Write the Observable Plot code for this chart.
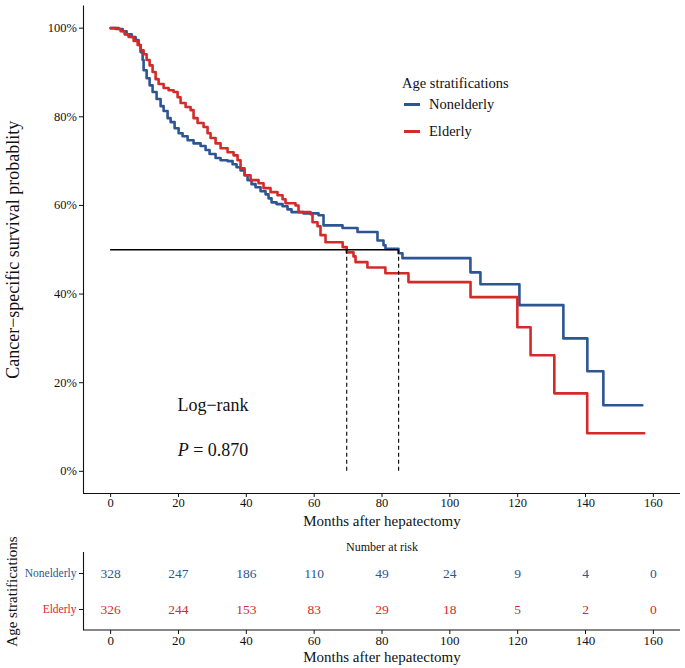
<!DOCTYPE html>
<html><head><meta charset="utf-8">
<script src="https://cdn.jsdelivr.net/npm/d3@7"></script>
<script src="https://cdn.jsdelivr.net/npm/@observablehq/plot@0.6"></script>
<style>
body{margin:0;background:#fff;font-family:"Liberation Serif",serif;}
#wrap{position:relative;width:685px;height:668px;overflow:hidden;}
#wrap svg{display:block;}
.ov{position:absolute;white-space:nowrap;color:#111;font-family:"Liberation Serif",serif;}
.c{transform:translate(-50%,-50%);}
.lg{position:absolute;height:2.5px;width:16px;}
</style></head><body><div id="wrap"></div>
<script>
// ---- data ----
const strata = ["Nonelderly", "Elderly"];
const strataColors = ["#2D5594", "#D42A2A"];

const nonelderlyTime = [0, 2.36, 3.54, 4.71, 6.19, 7.37, 8.25, 8.84, 9.43, 9.72, 10.61, 11.49, 12.37, 13.55, 14.73, 15.62, 16.79, 17.68, 18.86, 20.04, 21.21, 22.69, 24.45, 26.52, 27.99, 29.17, 30.94, 32.41, 34.47, 35.95, 37.12, 38.30, 39.48, 40.37, 41.54, 42.72, 44.20, 45.67, 46.55, 47.44, 48.91, 50.68, 52.15, 53.33, 56.86, 61.28, 62.76, 68.36, 72.78, 78.67, 80.44, 81.03, 84.86, 86.03, 106.07, 109.02, 120.51, 133.47, 140.54, 145.26, 156.75];
const nonelderlySurv = [100, 99.8, 99.3, 98.6, 98.0, 97.3, 96.2, 94.6, 92.8, 90.5, 88.7, 87.1, 85.6, 84.0, 82.4, 81.3, 79.7, 78.8, 77.4, 76.3, 75.6, 74.7, 74.0, 73.4, 72.5, 71.6, 70.7, 70.2, 70.0, 69.3, 68.6, 67.9, 66.8, 65.7, 64.8, 64.1, 63.2, 62.5, 61.6, 60.7, 60.3, 59.8, 59.1, 58.5, 58.2, 57.8, 55.5, 54.9, 54.0, 52.1, 51.0, 50.2, 49.2, 48.1, 44.9, 42.2, 37.5, 30.0, 22.6, 14.9, 14.9];

const elderlyTime = [0, 1.47, 2.95, 4.12, 5.30, 6.78, 7.96, 8.84, 9.72, 10.61, 11.49, 12.37, 13.26, 14.14, 15.62, 17.09, 18.56, 19.74, 20.62, 22.10, 23.57, 24.45, 25.63, 27.40, 28.58, 29.46, 30.94, 32.41, 34.47, 36.24, 37.42, 38.30, 39.48, 41.25, 43.61, 45.08, 47.14, 49.20, 50.68, 51.56, 54.51, 55.39, 58.93, 59.52, 60.99, 61.87, 63.35, 68.4, 69.6, 71.6, 72.2, 75.7, 81.0, 87.8, 106.1, 119.9, 123.8, 130.8, 140.5, 157.3];
const elderlySurv = [100, 99.8, 99.3, 98.6, 98.0, 97.1, 96.2, 95.0, 94.1, 92.8, 91.6, 90.1, 88.5, 87.4, 86.5, 86.0, 85.6, 84.4, 83.1, 82.2, 81.5, 79.7, 78.6, 77.7, 76.3, 75.2, 74.0, 72.9, 72.0, 71.3, 70.2, 68.4, 66.8, 65.7, 65.0, 63.9, 63.0, 62.3, 61.4, 60.5, 60.0, 58.5, 58.0, 56.2, 55.3, 53.3, 51.7, 50.6, 49.4, 48.5, 47.2, 46.0, 44.7, 42.7, 39.3, 32.5, 26.2, 17.6, 8.6, 8.6];

const medianTimes = [69.6, 84.9];
const medianLevel = 50;

const riskTimes = [0, 20, 40, 60, 80, 100, 120, 140, 160];
const nonelderlyRisk = [328, 247, 186, 110, 49, 24, 9, 4, 0];
const elderlyRisk = [326, 244, 153, 83, 29, 18, 5, 2, 0];

const yTicks = [0, 20, 40, 60, 80, 100];
const xDomain = [-8, 168];
const yDomain = [-5, 105];

// ---- tables for Plot ----
const curveRows = [
  ...nonelderlyTime.map((t, i) => ({strata: strata[0], time: t, surv: nonelderlySurv[i]})),
  ...elderlyTime.map((t, i) => ({strata: strata[1], time: t, surv: elderlySurv[i]}))
];
const riskRows = [
  ...riskTimes.map((t, i) => ({strata: strata[0], time: t, n: nonelderlyRisk[i]})),
  ...riskTimes.map((t, i) => ({strata: strata[1], time: t, n: elderlyRisk[i]}))
];

const font = "Liberation Serif";
const ink = "#111";

const main = Plot.plot({
  width: 685, height: 532,
  marginLeft: 83, marginRight: 5, marginTop: 5.5, marginBottom: 39,
  x: {domain: xDomain},
  y: {domain: yDomain},
  color: {domain: strata, range: strataColors},
  style: {fontFamily: font, fontSize: "12.5px", color: ink, background: "white", overflow: "visible"},
  marks: [
    Plot.ruleY([yDomain[0]], {stroke: ink, strokeWidth: 1.1}),
    Plot.ruleX([xDomain[0]], {stroke: ink, strokeWidth: 1.1}),
    Plot.axisX({ticks: riskTimes, tickSize: 4, tickPadding: 1, label: null, stroke: ink, fill: ink}),
    Plot.axisY({ticks: yTicks, tickFormat: d => d + "%", tickSize: 4, tickPadding: 2.5, label: null, stroke: ink, fill: ink}),
    Plot.line(curveRows, {x: "time", y: "surv", z: "strata", stroke: "strata", curve: "step-after", strokeWidth: 2.6}),
    Plot.ruleY([medianLevel], {x1: 0, x2: d3.max(medianTimes), stroke: "#000", strokeWidth: 1.4}),
    Plot.ruleX(medianTimes, {y1: 0, y2: medianLevel, stroke: "#000", strokeWidth: 1.1, strokeDasharray: "4,3"}),
    Plot.text(["Cancer\u2212specific survival probablity"], {frameAnchor: "left", dx: -70.5, rotate: -90, textAnchor: "middle", lineAnchor: "middle", fontSize: 18, fill: ink}),
    Plot.text(["Months after hepatectomy"], {frameAnchor: "bottom", dy: 28, textAnchor: "middle", lineAnchor: "middle", fontSize: 15, fill: ink})
  ]
});

const table = Plot.plot({
  width: 685, height: 136,
  marginLeft: 83, marginRight: 5, marginTop: 20, marginBottom: 38,
  x: {domain: xDomain},
  y: {type: "point", domain: strata, padding: 0.58},
  color: {domain: strata, range: strataColors},
  style: {fontFamily: font, fontSize: "13px", color: ink, background: "white", overflow: "visible"},
  marks: [
    Plot.ruleX([xDomain[0]], {stroke: ink, strokeWidth: 1.1}),
    Plot.ruleY([strata[1]], {stroke: "none"}),
    Plot.axisX({ticks: riskTimes, tickSize: 4, tickPadding: 1, label: null, stroke: ink, fill: ink}),
    Plot.axisY({tickSize: 4, tickFormat: () => "", label: null, stroke: ink}),
    Plot.text(strata, {y: d => d, frameAnchor: "left", dx: -7, textAnchor: "end", lineAnchor: "middle", fill: d => d, fontSize: 11.5}),
    Plot.text(riskRows, {x: "time", y: "strata", text: "n", fill: "strata", fontSize: 13.5}),
    Plot.text(["Number at risk"], {frameAnchor: "top", dy: -5, textAnchor: "middle", lineAnchor: "middle", fontSize: 12, fill: ink}),
    Plot.text(["Months after hepatectomy"], {frameAnchor: "bottom", dy: 27, textAnchor: "middle", lineAnchor: "middle", fontSize: 15, fill: ink}),
    Plot.text(["Age stratifications"], {frameAnchor: "left", dx: -71.5, rotate: -90, textAnchor: "middle", lineAnchor: "middle", fontSize: 15, fill: ink})
  ]
});

// bottom axis line for the table drawn via a frame-less rule at panel bottom
const wrap = document.getElementById("wrap");
wrap.appendChild(main);
wrap.appendChild(table);
// table bottom axis line (x axis line)
{
  const svg = d3.select(table);
  const h = 136 - 38;
  svg.append("line").attr("x1", 83).attr("x2", 680).attr("y1", h).attr("y2", h).attr("stroke", ink).attr("stroke-width", 1.1);
}

// legend
const lg = document.createElement("div");
lg.innerHTML = `
<div class="ov" style="left:402px;top:74px;font-size:14.5px;line-height:18px;">Age stratifications</div>
<div class="lg" style="left:404px;top:103px;background:${strataColors[0]}"></div>
<div class="ov" style="left:429px;top:95px;font-size:14.5px;line-height:18px;">${strata[0]}</div>
<div class="lg" style="left:404px;top:130px;background:${strataColors[1]}"></div>
<div class="ov" style="left:429px;top:122px;font-size:14.5px;line-height:18px;">${strata[1]}</div>
<div class="ov c" style="left:213px;top:405px;font-size:18px;">Log\u2212rank</div>
<div class="ov c" style="left:213px;top:450px;font-size:18px;"><i>P</i> = 0.870</div>
`;
wrap.appendChild(lg);
</script>
</body></html>
